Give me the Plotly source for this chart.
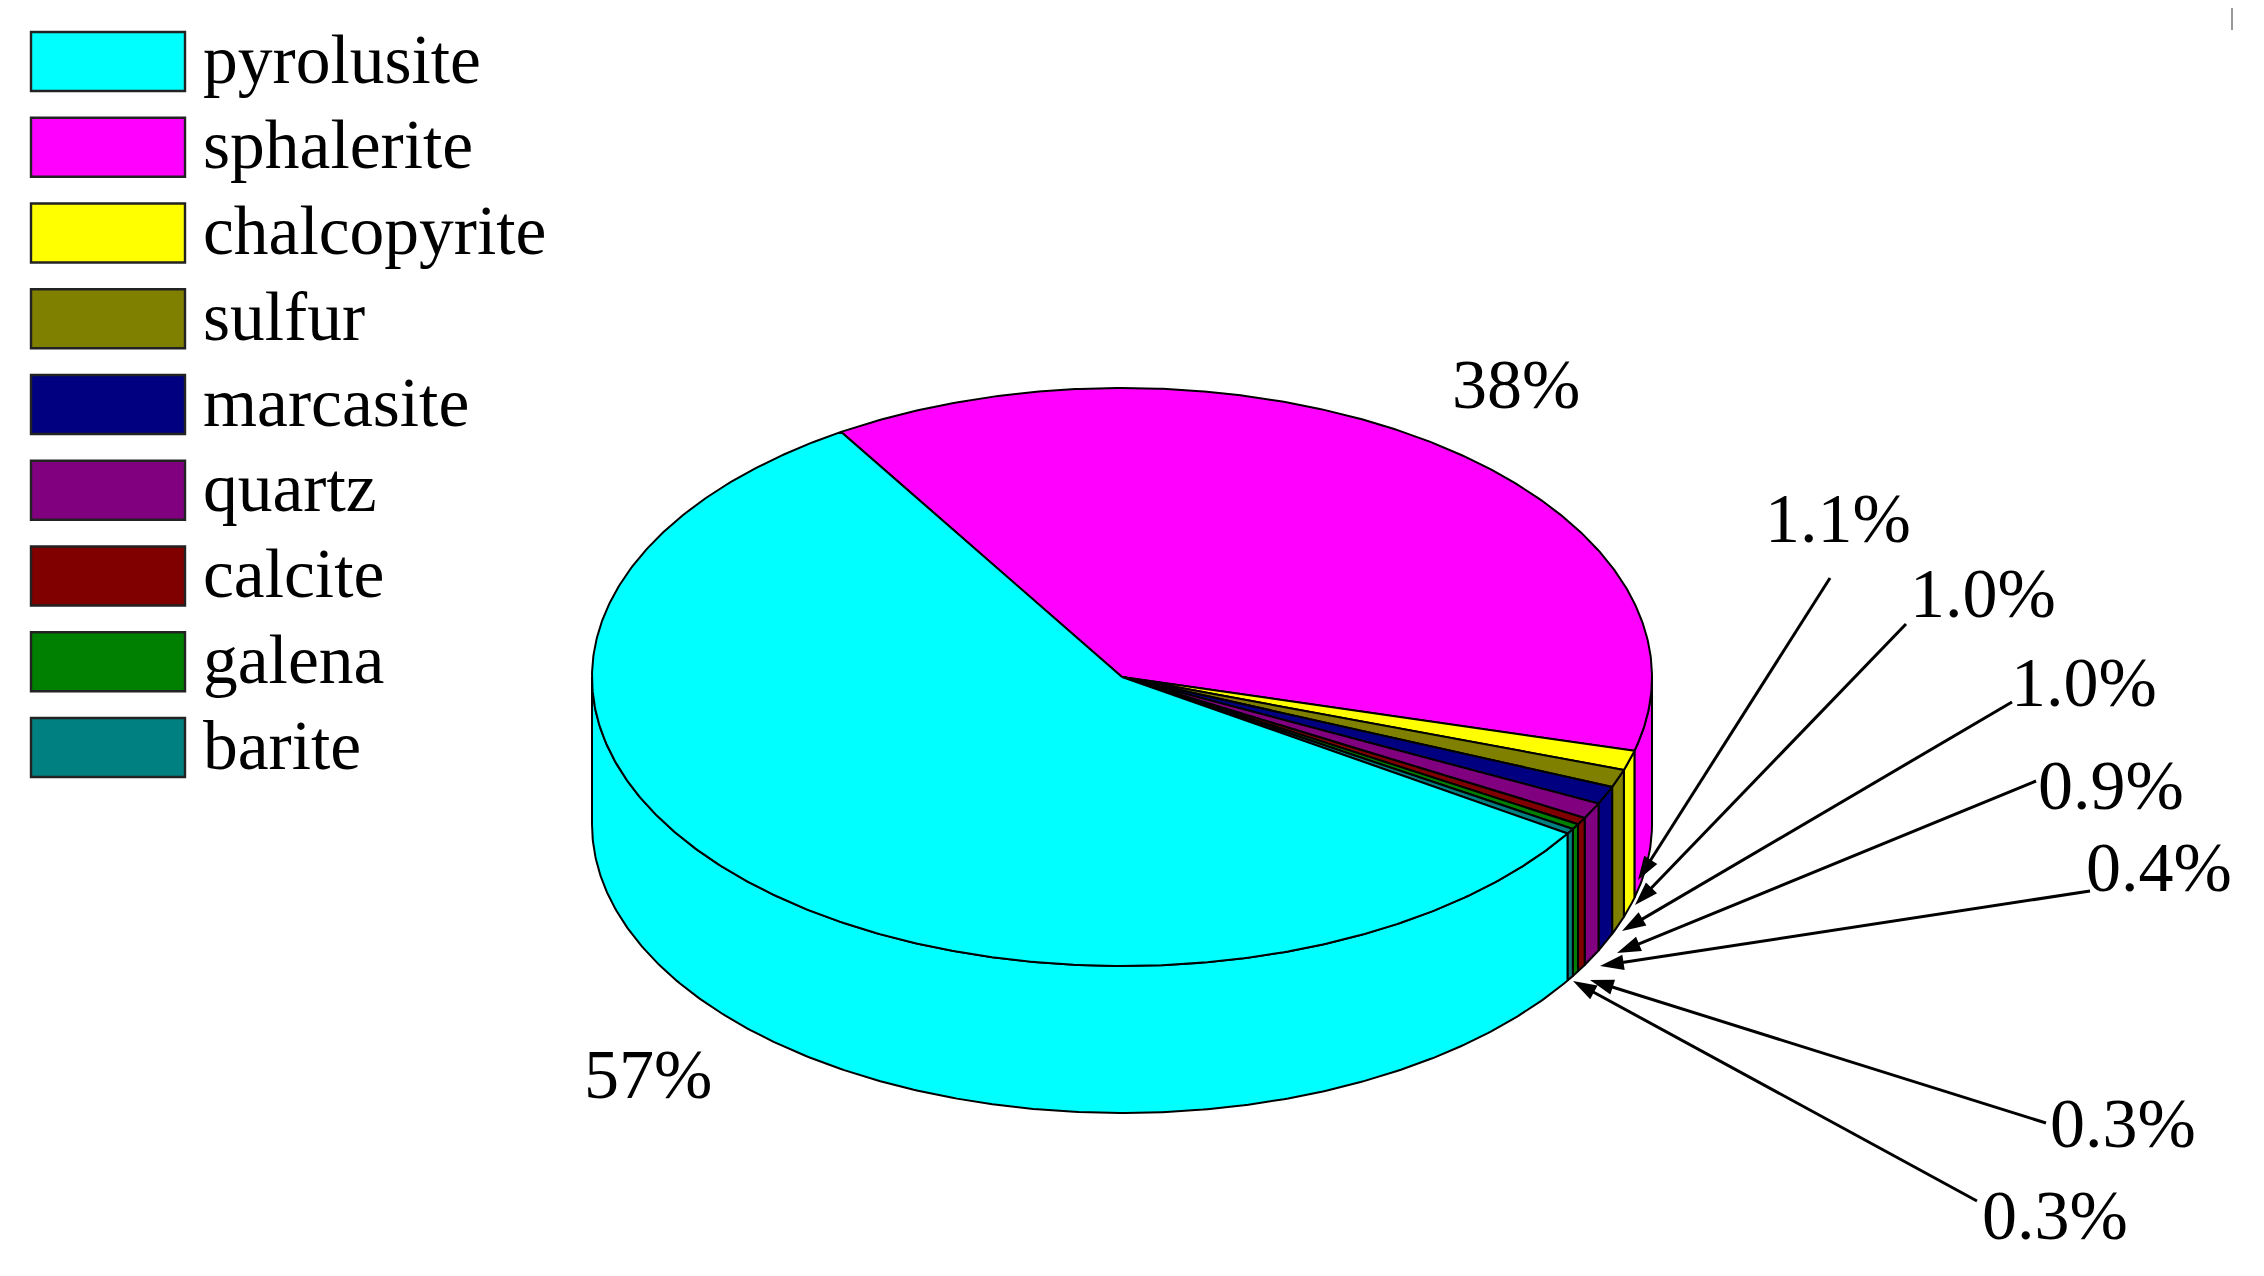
import numpy as np
import plotly.graph_objects as go

# Mineral shares, in percent
minerals = ["pyrolusite", "sphalerite", "chalcopyrite", "sulfur", "marcasite",
            "quartz", "calcite", "galena", "barite"]
shares = [57, 38, 1.1, 1.0, 1.0, 0.9, 0.4, 0.3, 0.3]
colours = ["#00FFFF", "#FF00FF", "#FFFF00", "#808000", "#000080",
           "#800080", "#800000", "#008000", "#008080"]

# Percent labels and their leader arrows (tail, then tip), in picture pixels
label_texts = ["38%", "57%", "1.1%", "1.0%", "1.0%", "0.9%", "0.4%", "0.3%", "0.3%"]
label_x = [1516, 648, 1838, 1983, 2084, 2111, 2159, 2123, 2055]
label_y = [384, 1074, 518, 593, 682, 785, 867, 1123, 1215]
tail_x = [1830, 1906, 2012, 2036, 2090, 2046, 1977]
tail_y = [578, 624, 702, 781, 891, 1123, 1201]
tip_x = [1638, 1635, 1622, 1617, 1600, 1590, 1573]
tip_y = [880, 905, 931, 953, 966, 980, 981]

# Pie geometry
cx, cy = 1122, 677
rx, ry = 530, 289
depth = 147
start_angle = 122  # border between pyrolusite and sphalerite

WIDTH, HEIGHT = 2264, 1276
PAGE_MARGIN = 8  # the page body keeps its default margin
FONT = "Liberation Serif"
EDGE = dict(color="black", width=2)


def arc(a0, a1, dy=0):
    t = np.radians(np.linspace(a0, a1, max(2, int(abs(a1 - a0) * 2) + 2)))
    return cx + rx * np.cos(t), cy - ry * np.sin(t) + dy


def polygon(xs, ys, colour):
    return go.Scatter(x=xs, y=ys, mode="lines", fill="toself", fillcolor=colour,
                      line=EDGE, hoverinfo="skip", showlegend=False)


# Sectors run clockwise from the start angle, sphalerite first, pyrolusite last
order = [1, 2, 3, 4, 5, 6, 7, 8, 0]
fig = go.Figure()
angle = start_angle
sectors = []
for i in order:
    end = angle - shares[i] * 3.6
    sectors.append((i, angle, end))
    angle = end

# Outer wall, only the part facing the viewer
for i, a0, a1 in sectors:
    top0, top1 = min(a0, 0), max(a1, -180)
    if top0 <= top1:
        continue
    xt, yt = arc(top0, top1)
    xb, yb = arc(top1, top0, depth)
    fig.add_trace(polygon(np.r_[xt, xb, xt[0]], np.r_[yt, yb, yt[0]], colours[i]))

# Top face
for i, a0, a1 in sectors:
    xt, yt = arc(a0, a1)
    fig.add_trace(polygon(np.r_[cx, xt, cx], np.r_[cy, yt, cy], colours[i]))

# Leader arrows
for x0, y0, x1, y1 in zip(tail_x, tail_y, tip_x, tip_y):
    fig.add_trace(go.Scatter(x=[x0, x1], y=[y0, y1], mode="lines+markers",
                             line=dict(color="black", width=3),
                             marker=dict(symbol="arrow", size=25, angleref="previous",
                                         color="black", line=dict(width=0)),
                             hoverinfo="skip", showlegend=False))

fig.update_layout(
    width=WIDTH - PAGE_MARGIN, height=HEIGHT - PAGE_MARGIN,
    margin=dict(l=0, r=0, t=0, b=0),
    paper_bgcolor="white", plot_bgcolor="white", showlegend=False,
    xaxis=dict(range=[PAGE_MARGIN, WIDTH], visible=False, fixedrange=True),
    yaxis=dict(range=[HEIGHT, PAGE_MARGIN], visible=False, fixedrange=True),
)

# Legend
for n, name in enumerate(minerals):
    top = 32 + n * 85.75
    fig.add_shape(type="rect", x0=31, x1=185, y0=top, y1=top + 59,
                  fillcolor=colours[n], line=dict(color="#222222", width=2.4))
    fig.add_annotation(x=201, y=top + 27, text=name, showarrow=False, xanchor="left",
                       yanchor="middle", font=dict(family=FONT, size=69.5, color="black"))

# Percent labels
for text, x, y in zip(label_texts, label_x, label_y):
    fig.add_annotation(x=x, y=y, text=text, showarrow=False, xanchor="center",
                       yanchor="middle", font=dict(family=FONT, size=70, color="black"))

# Small stray tick in the top right corner
fig.add_shape(type="line", x0=2232, x1=2232, y0=5, y1=30,
              line=dict(color="#999999", width=2))

fig.write_html("out.html")
